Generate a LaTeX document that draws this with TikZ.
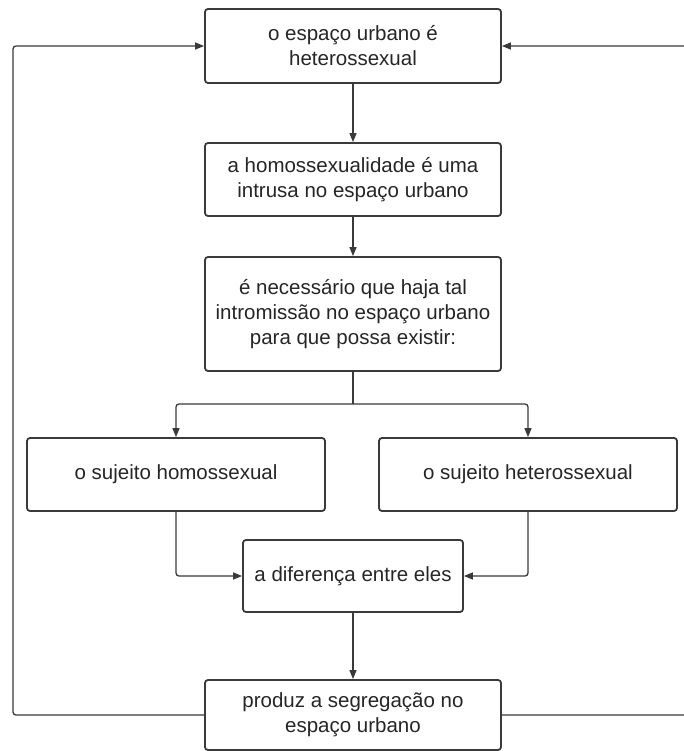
\documentclass[tikz,border=0pt]{standalone}
\usepackage{fontspec}
\setmainfont{Liberation Sans}
\usetikzlibrary{arrows.meta}
\definecolor{linec}{HTML}{3A3A3A}
\definecolor{textc}{HTML}{262626}
\begin{document}
\begin{tikzpicture}[x=1pt,y=-1pt,
  box/.style={draw=linec, line width=1.8pt, rounded corners=3pt, fill=white,
    align=center, inner sep=0pt, text=textc,
    font=\fontsize{20.5}{25}\selectfont},
  conn/.style={draw=linec, line width=1.3pt, rounded corners=3pt},
  arr/.style={conn, -{Triangle[length=9pt,width=7pt]}}]
\useasboundingbox (0,0) rectangle (684,751);
\fill[white] (0,0) rectangle (684,751);
\node[box, minimum width=296pt, minimum height=74pt] (b1) at (353,46) {o espaço urbano é\\heterossexual};
\node[box, minimum width=296pt, minimum height=73pt] (b2) at (353,179.5) {a homossexualidade é uma\\intrusa no espaço urbano};
\node[box, minimum width=296pt, minimum height=114pt] (b3) at (353,314) {é necessário que haja tal\\intromissão no espaço urbano\\para que possa existir:};
\node[box, minimum width=298pt, minimum height=73pt] (b4) at (176,474.5) {o sujeito homossexual};
\node[box, minimum width=298pt, minimum height=73pt] (b5) at (528,474.5) {o sujeito heterossexual};
\node[box, minimum width=220pt, minimum height=72pt] (b6) at (353,576) {a diferença entre eles};
\node[box, minimum width=296pt, minimum height=70pt] (b7) at (353,715) {produz a segregação no\\espaço urbano};
\coordinate (sp) at (353,404);
\coordinate (fl) at (13,380);
\coordinate (fr) at (687,380);
\draw[arr] (b1.south) -- (b2.north);
\draw[arr] (b2.south) -- (b3.north);
\draw[conn] (b3.south) -- (sp);
\draw[arr] (sp) -| (b4.north);
\draw[arr] (sp) -| (b5.north);
\draw[arr] (b4.south) |- (b6.west);
\draw[arr] (b5.south) |- (b6.east);
\draw[arr] (b6.south) -- (b7.north);
\draw[arr] (b7.west) -| (fl) |- (b1.west);
\draw[arr] (b7.east) -| (fr) |- (b1.east);
\end{tikzpicture}
\end{document}
